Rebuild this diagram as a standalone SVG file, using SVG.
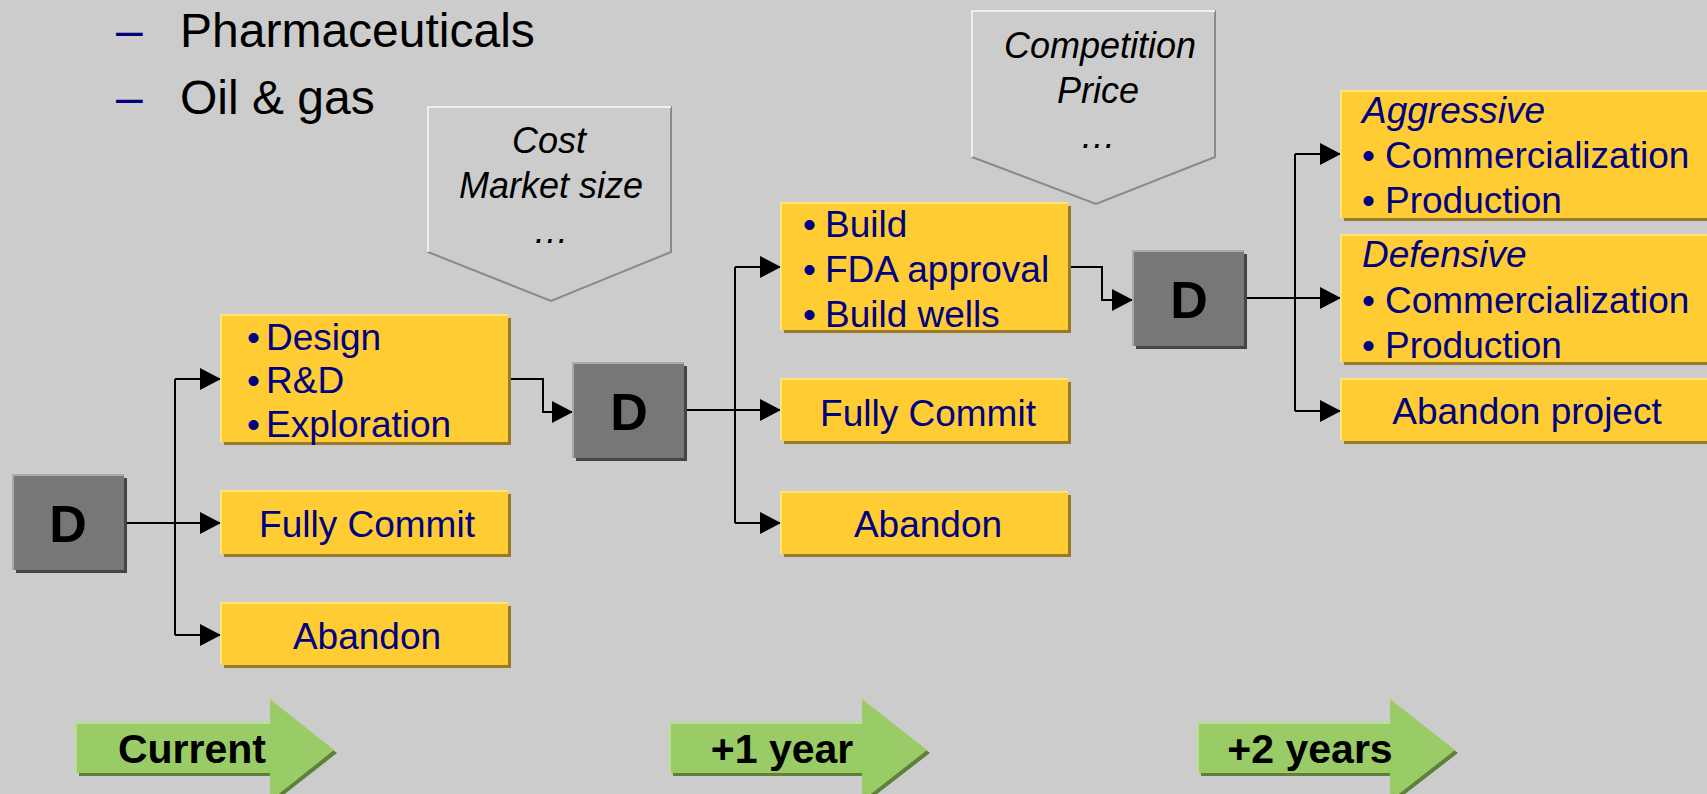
<svg xmlns="http://www.w3.org/2000/svg" width="1707" height="794" viewBox="0 0 1707 794">
<defs>
<style>
.bg{fill:#cccccc}
.ybody{fill:#ffcc33}
.yshad{fill:#977b2b}
.ylite{stroke:#ffe27a;stroke-width:2;fill:none}
.dbody{fill:#777777}
.dshad{fill:#444444}
.dlite{stroke:#a8a8a8;stroke-width:2;fill:none}
.dtxt{font-family:"Liberation Sans",Arial,sans-serif;font-weight:bold;font-size:52px;fill:#000;text-anchor:middle}
.t{font-family:"Liberation Sans",Arial,sans-serif;font-size:37px;fill:#000080}
.tm{text-anchor:middle}
.it{font-style:italic}
.ct{font-family:"Liberation Sans",Arial,sans-serif;font-size:36px;font-style:italic;fill:#000;text-anchor:middle}
.hd{font-family:"Liberation Sans",Arial,sans-serif;font-size:48px;fill:#000}
.dash{fill:#000080}
.chev{fill:#cccccc;stroke:#8a8a8a;stroke-width:2}
.chevlite{fill:none;stroke:#efefef;stroke-width:2}
.gbody{fill:#99cc66}
.gshad{fill:#5f7f3a}
.glite{fill:none;stroke:#b9e08e;stroke-width:2}
.gt{font-family:"Liberation Sans",Arial,sans-serif;font-size:41px;font-weight:bold;fill:#000;text-anchor:middle}
.conn{fill:none;stroke:#000;stroke-width:2}
</style>
<marker id="ah" markerUnits="userSpaceOnUse" markerWidth="22" markerHeight="22" refX="21" refY="11" orient="auto">
<path d="M0,0 L21,11 L0,22 z" fill="#000"/>
</marker>
</defs>
<rect class="bg" x="0" y="0" width="1707" height="794"/>

<g id="header">
<text class="hd dash" x="116" y="47">–</text>
<text class="hd" x="180" y="47">Pharmaceuticals</text>
<text class="hd dash" x="116" y="114">–</text>
<text class="hd" x="180" y="114">Oil &amp; gas</text>
</g>

<g id="chevron-cost">
<polygon class="chev" points="428,107 671,107 671,252 551,301 428,252"/>
<polyline class="chevlite" points="428,252 428,107 671,107"/>
<text class="ct" x="549" y="153">Cost</text>
<text class="ct" x="551" y="198">Market size</text>
<text class="ct" x="551" y="243">…</text>
</g>

<g id="chevron-competition">
<polygon class="chev" points="972,11 1215,11 1215,157 1096,204 972,157"/>
<polyline class="chevlite" points="972,157 972,11 1215,11"/>
<text class="ct" x="1100" y="58">Competition</text>
<text class="ct" x="1098" y="103">Price</text>
<text class="ct" x="1098" y="148">…</text>
</g>

<g id="connectors">
<path class="conn" d="M124,523 H221" marker-end="url(#ah)"/>
<path class="conn" d="M175,379 V635"/>
<path class="conn" d="M175,379 H221" marker-end="url(#ah)"/>
<path class="conn" d="M175,635 H221" marker-end="url(#ah)"/>
<path class="conn" d="M508,379 H543 V412 H573" marker-end="url(#ah)"/>
<path class="conn" d="M684,410 H781" marker-end="url(#ah)"/>
<path class="conn" d="M735,267 V523"/>
<path class="conn" d="M735,267 H781" marker-end="url(#ah)"/>
<path class="conn" d="M735,523 H781" marker-end="url(#ah)"/>
<path class="conn" d="M1068,267 H1102 V300 H1133" marker-end="url(#ah)"/>
<path class="conn" d="M1244,298 H1341" marker-end="url(#ah)"/>
<path class="conn" d="M1295,154 V411"/>
<path class="conn" d="M1295,154 H1341" marker-end="url(#ah)"/>
<path class="conn" d="M1295,411 H1341" marker-end="url(#ah)"/>
</g>

<g id="d1">
<rect class="dshad" x="16" y="478" width="111" height="95"/>
<rect class="dbody" x="13" y="475" width="111" height="95"/>
<polyline class="dlite" points="13,570 13,475 124,475"/>
<text class="dtxt" x="68" y="542">D</text>
</g>
<g id="d2">
<rect class="dshad" x="576" y="366" width="111" height="95"/>
<rect class="dbody" x="573" y="363" width="111" height="95"/>
<polyline class="dlite" points="573,458 573,363 684,363"/>
<text class="dtxt" x="629" y="430">D</text>
</g>
<g id="d3">
<rect class="dshad" x="1136" y="254" width="111" height="95"/>
<rect class="dbody" x="1133" y="251" width="111" height="95"/>
<polyline class="dlite" points="1133,346 1133,251 1244,251"/>
<text class="dtxt" x="1189" y="318">D</text>
</g>

<g id="box-design">
<rect class="yshad" x="224" y="318" width="287" height="127"/>
<rect class="ybody" x="221" y="315" width="287" height="127"/>
<polyline class="ylite" points="221,442 221,315 508,315"/>
<text class="t" x="247" y="350">•</text><text class="t" x="266" y="350">Design</text>
<text class="t" x="247" y="393">•</text><text class="t" x="266" y="393">R&amp;D</text>
<text class="t" x="247" y="437">•</text><text class="t" x="266" y="437">Exploration</text>
</g>
<g id="box-commit1">
<rect class="yshad" x="224" y="494" width="287" height="63"/>
<rect class="ybody" x="221" y="491" width="287" height="63"/>
<polyline class="ylite" points="221,554 221,491 508,491"/>
<text class="t tm" x="367" y="537">Fully Commit</text>
</g>
<g id="box-abandon1">
<rect class="yshad" x="224" y="606" width="287" height="62"/>
<rect class="ybody" x="221" y="603" width="287" height="62"/>
<polyline class="ylite" points="221,665 221,603 508,603"/>
<text class="t tm" x="367" y="649">Abandon</text>
</g>

<g id="box-build">
<rect class="yshad" x="784" y="206" width="287" height="127"/>
<rect class="ybody" x="781" y="203" width="287" height="127"/>
<polyline class="ylite" points="781,330 781,203 1068,203"/>
<text class="t" x="803" y="237">•</text><text class="t" x="825" y="237">Build</text>
<text class="t" x="803" y="282">•</text><text class="t" x="825" y="282">FDA approval</text>
<text class="t" x="803" y="327">•</text><text class="t" x="825" y="327">Build wells</text>
</g>
<g id="box-commit2">
<rect class="yshad" x="784" y="382" width="287" height="62"/>
<rect class="ybody" x="781" y="379" width="287" height="62"/>
<polyline class="ylite" points="781,441 781,379 1068,379"/>
<text class="t tm" x="928" y="426">Fully Commit</text>
</g>
<g id="box-abandon2">
<rect class="yshad" x="784" y="495" width="287" height="62"/>
<rect class="ybody" x="781" y="492" width="287" height="62"/>
<polyline class="ylite" points="781,554 781,492 1068,492"/>
<text class="t tm" x="928" y="537">Abandon</text>
</g>

<g id="box-aggressive">
<rect class="yshad" x="1344" y="94" width="380" height="127"/>
<rect class="ybody" x="1341" y="91" width="380" height="127"/>
<polyline class="ylite" points="1341,218 1341,91 1721,91"/>
<text class="t it" x="1362" y="123">Aggressive</text>
<text class="t" x="1362" y="168">•</text><text class="t" x="1385" y="168">Commercialization</text>
<text class="t" x="1362" y="213">•</text><text class="t" x="1385" y="213">Production</text>
</g>
<g id="box-defensive">
<rect class="yshad" x="1344" y="238" width="380" height="127"/>
<rect class="ybody" x="1341" y="235" width="380" height="127"/>
<polyline class="ylite" points="1341,362 1341,235 1721,235"/>
<text class="t it" x="1362" y="267">Defensive</text>
<text class="t" x="1362" y="313">•</text><text class="t" x="1385" y="313">Commercialization</text>
<text class="t" x="1362" y="358">•</text><text class="t" x="1385" y="358">Production</text>
</g>
<g id="box-abandon3">
<rect class="yshad" x="1344" y="382" width="380" height="62"/>
<rect class="ybody" x="1341" y="379" width="380" height="62"/>
<polyline class="ylite" points="1341,441 1341,379 1721,379"/>
<text class="t tm" x="1527" y="424">Abandon project</text>
</g>

<g id="arrow-current">
<polygon class="gshad" points="79,726 272,726 272,703 337,753 272,804 272,776 79,776"/>
<polygon class="gbody" points="76,723 270,723 270,699 334,750 270,801 270,773 76,773"/>
<polyline class="glite" points="76,773 76,723 270,723"/>
<text class="gt" x="192" y="763">Current</text>
</g>
<g id="arrow-year1">
<polygon class="gshad" points="673,726 864,726 864,703 930,753 864,804 864,776 673,776"/>
<polygon class="gbody" points="670,723 862,723 862,699 927,750 862,801 862,773 670,773"/>
<polyline class="glite" points="670,773 670,723 862,723"/>
<text class="gt" x="782" y="763">+1 year</text>
</g>
<g id="arrow-year2">
<polygon class="gshad" points="1201,726 1392,726 1392,703 1458,753 1392,804 1392,776 1201,776"/>
<polygon class="gbody" points="1198,723 1390,723 1390,699 1455,750 1390,801 1390,773 1198,773"/>
<polyline class="glite" points="1198,773 1198,723 1390,723"/>
<text class="gt" x="1310" y="763">+2 years</text>
</g>
</svg>
